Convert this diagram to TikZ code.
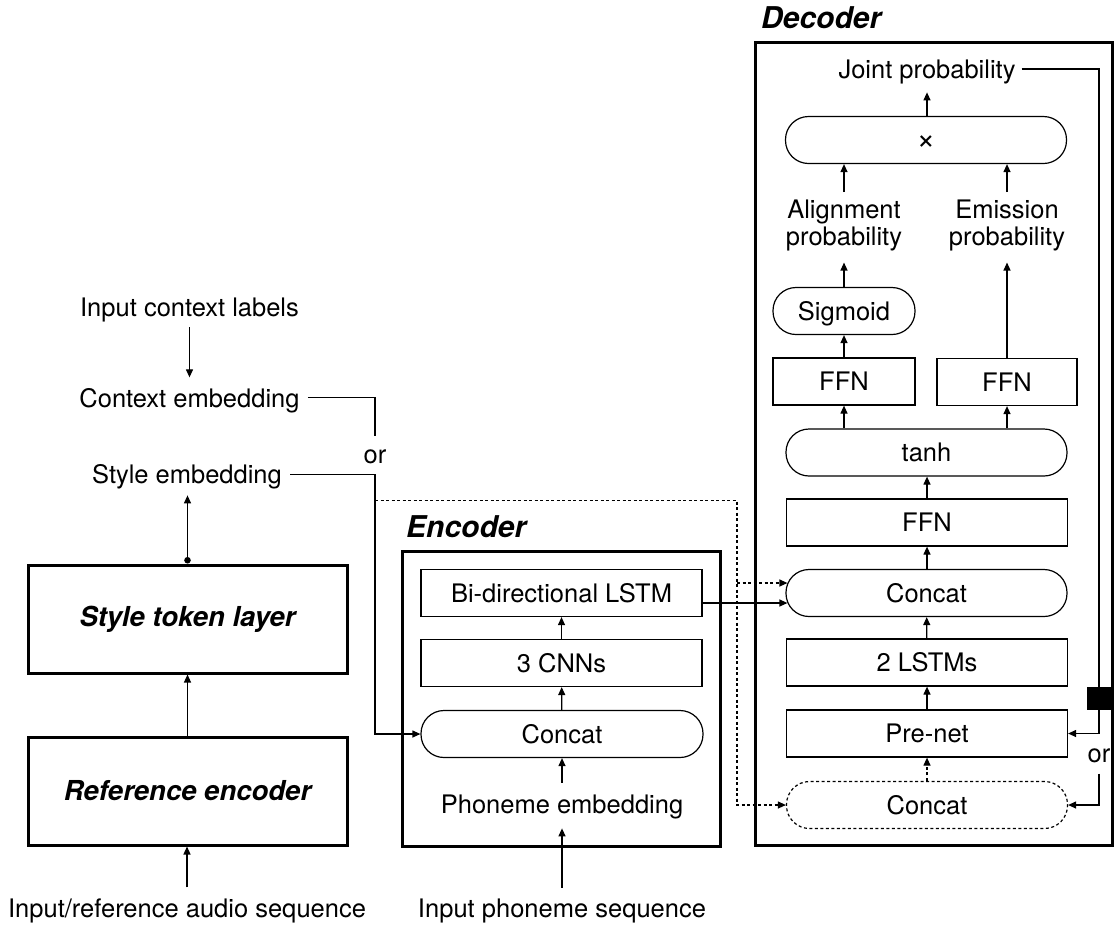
\documentclass[tikz,border=0pt]{standalone}
\usepackage{fontspec}
\setmainfont{TeX Gyre Heros}
\usetikzlibrary{arrows.meta}
\begin{document}
\begin{tikzpicture}[x=1pt,y=-1pt,
  every node/.style={font=\fontsize{25.5}{27}\selectfont},
  lbl/.style={inner sep=0pt, anchor=base},
  twoline/.style={inner sep=0pt, anchor=north, align=center},
  title/.style={inner sep=0pt, anchor=base west, font=\fontsize{30}{32}\selectfont\bfseries\itshape},
  blk/.style={draw, line width=1.2pt, minimum height=47pt, inner sep=0pt,
              text height=18.3pt, text depth=0pt},
  rbox/.style={blk, minimum width=#1},
  pill/.style={blk, rounded corners=23pt, minimum width=#1},
  heavy/.style={draw, line width=3pt, inner sep=0pt, minimum width=319pt, minimum height=108pt,
                font=\fontsize{27.5}{30}\selectfont\bfseries\itshape},
  frame/.style={draw, line width=3pt, inner sep=0pt},
  conn/.style={line width=1.2pt},
  tip/.style={-{Triangle[length=8pt,width=7pt]}},
  arr/.style={conn, tip},
  dots/.style={conn, dash pattern=on 3pt off 2.5pt},
  dotarr/.style={dots, tip},
]
\useasboundingbox (0,0) rectangle (1115,927);

% ---------- frames ----------
\node[frame, minimum width=318pt, minimum height=295pt] (encframe) at (561,698.5) {};
\node[frame, minimum width=357pt, minimum height=803pt] (decframe) at (933.5,443.5) {};
\node[title] (enctitle) at (406,537) {Encoder};
\node[title] (dectitle) at (761,28) {Decoder};

% ---------- style branch ----------
\node[lbl] (ictx)  at (189.5,316) {Input context labels};
\node[lbl] (ctx)   at (189.5,407) {Context embedding};
\node[lbl] (orl)   at (375,463) {or};
\node[lbl] (style) at (187,483) {Style embedding};
\node[heavy] (stl)    at (187.5,619) {Style token layer};
\node[heavy] (refenc) at (187.5,791) {Reference encoder};
\node[lbl] (audio) at (187,917.5) {Input/reference audio sequence};

% ---------- encoder ----------
\node[rbox=281pt] (bilstm) at (561.5,593) {Bi-directional LSTM};
\node[rbox=281pt] (cnn)    at (561.5,663) {3 CNNs};
\node[pill=282pt] (ecat)   at (562,734) {Concat};
\node[lbl] (phemb) at (562,813) {Phoneme embedding};
\node[lbl] (phin)  at (562,917) {Input phoneme sequence};

% ---------- decoder ----------
\node[lbl] (jp) at (927,78.3) {Joint probability};
\node[pill=281pt, font=\fontsize{32}{32}\selectfont] (mul) at (926,140) {×};
\node[twoline] (alp) at (844,199.5) {Alignment\\probability};
\node[twoline] (emp) at (1007,199.5) {Emission\\probability};
\node[pill=142pt] (sig)  at (844,311) {Sigmoid};
\node[rbox=142pt] (ffna) at (844,381.5) {FFN};
\node[rbox=140pt] (ffnb) at (1007,382) {FFN};
\node[pill=281pt] (tanh) at (926.5,452.5) {tanh};
\node[rbox=281pt] (ffnc) at (927,522.5) {FFN};
\node[pill=281pt] (dcat1) at (926.5,593) {Concat};
\node[rbox=281pt] (lstm2) at (927,662.5) {2 LSTMs};
\node[rbox=281pt] (prenet) at (927,733.5) {Pre-net};
\node[pill=281pt, dash pattern=on 3pt off 2.5pt] (dcat2) at (927,805) {Concat};
\node[fill=black, inner sep=0pt, minimum width=24pt, minimum height=23pt] (gate) at (1099,698.5) {};
\node[lbl] (orr) at (1099,762) {or};

% ---------- connectors: style branch ----------
\draw[arr, shorten <=5.6pt, shorten >=10.4pt] (ictx.south) -- (ctx.north);
\draw[conn] ([xshift=8pt,yshift=2.4pt]ctx.east) -| ([yshift=13pt]orl.north);
\draw[arr] ([xshift=8pt,yshift=1.4pt]style.east) -| (orl.south |- ecat.west) -- (ecat.west);
\draw[conn, {Circle[length=6.5pt]}-{Triangle[length=8pt,width=7pt]}, shorten >=6.6pt]
  (stl.north) -- (stl.north |- style.south);
\draw[arr] (refenc) -- (stl);
\draw[arr, shorten <=11.4pt] (audio.north) -- (audio.north |- refenc.south);

% dotted branch of the style embedding into the decoder
\coordinate (dj) at (375,500.5);
\coordinate (dk) at (737,500.5);
\coordinate (dbr) at (737,583);
\draw[dotarr] (dj) -- (dk) |- (dcat2.west);
\draw[dotarr] (dbr) -- ([xshift=2pt,yshift=10pt]dcat1.west);

% ---------- connectors: encoder ----------
\draw[arr, shorten <=10.4pt, shorten >=9.6pt] (phin.north) -- (phemb.south);
\draw[arr, shorten <=11.4pt] (phemb.north) -- (ecat.south);
\draw[arr] (ecat) -- (cnn);
\draw[arr] (cnn) -- (bilstm);
\draw[arr] ([yshift=-10pt]bilstm.east) -- ([xshift=2pt,yshift=-10pt]dcat1.west);

% ---------- connectors: decoder ----------
\draw[dotarr] (dcat2) -- (prenet);
\draw[arr] (prenet) -- (lstm2);
\draw[arr] (lstm2) -- (dcat1);
\draw[arr] (dcat1.north -| ffnc) -- (ffnc.south);
\draw[arr] (ffnc.north) -- (ffnc.north |- tanh.south);
\draw[arr] (tanh.north -| ffna) -- (ffna.south);
\draw[arr] (tanh.north -| ffnb) -- (ffnb.south);
\draw[arr] (ffna) -- (sig);
\draw[arr, shorten >=11.5pt] (sig.north) -- (alp.south);
\draw[arr, shorten >=11.5pt] (ffnb.north) -- (emp.south);
\draw[arr, shorten <=7.5pt] (alp.north) -- (alp.north |- mul.south);
\draw[arr, shorten <=7.5pt] (emp.north) -- (emp.north |- mul.south);
\draw[arr, shorten >=8.3pt] (mul.north -| jp) -- (jp.south);
\draw[conn] ([xshift=6pt,yshift=2.7pt]jp.east) -| (gate.north);
\draw[arr] (gate.south) |- (prenet.east);
\draw[arr] ([yshift=-11pt]orr.south) |- (dcat2.east);
\end{tikzpicture}
\end{document}
